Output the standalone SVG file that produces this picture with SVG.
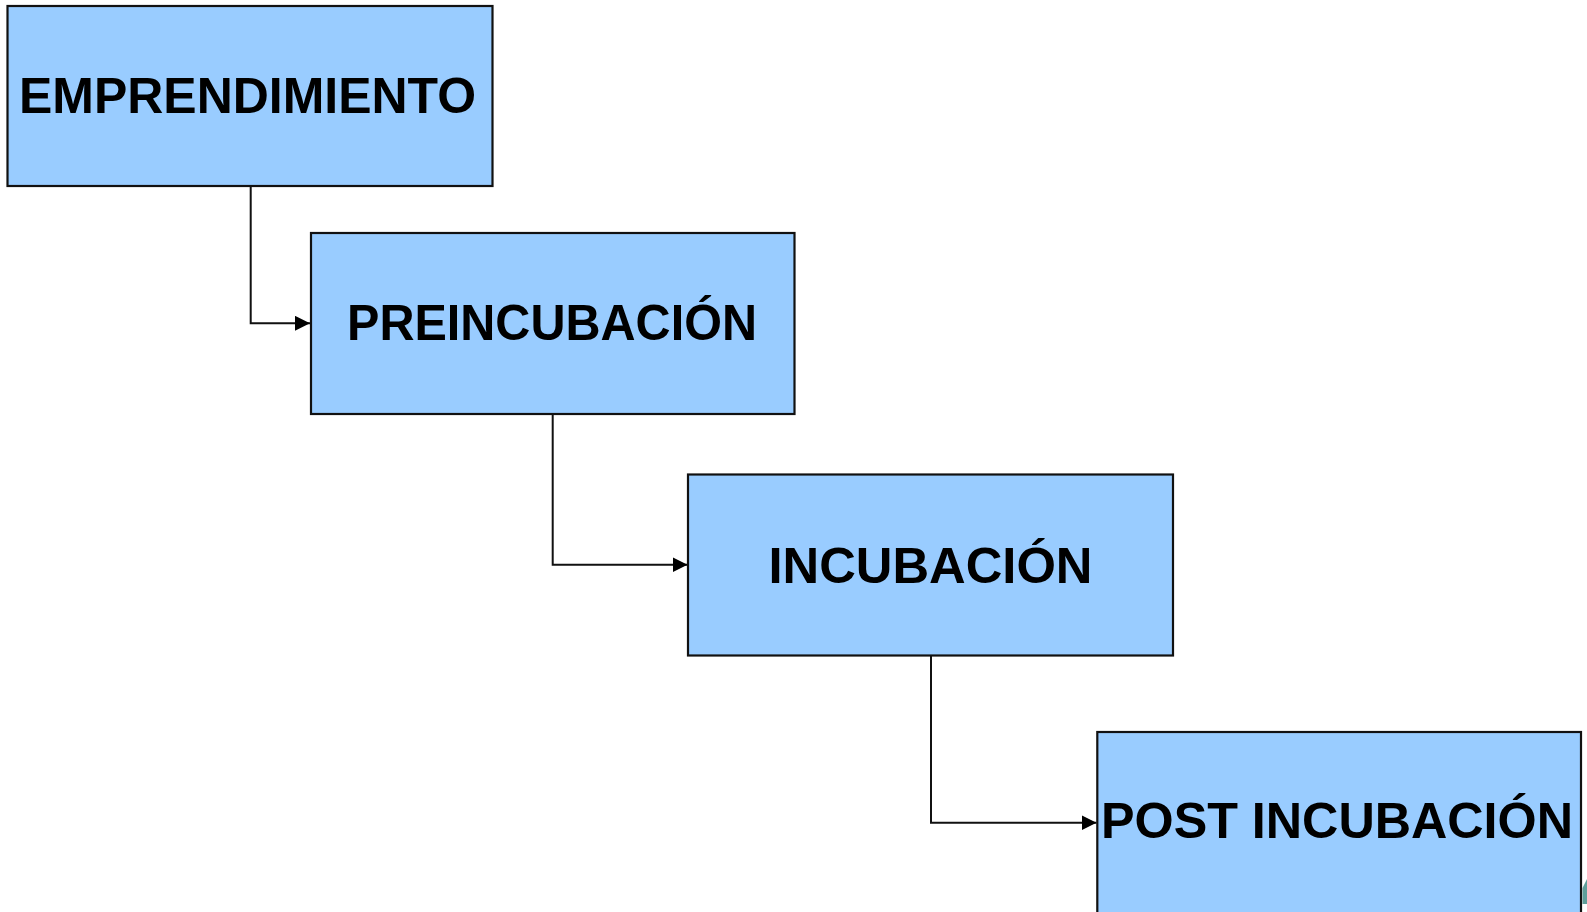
<svg xmlns="http://www.w3.org/2000/svg" width="1587" height="912" viewBox="0 0 1587 912">
  <style>
    .box { fill: #99CCFF; stroke: #111111; stroke-width: 2.2; }
    .lbl { font-family: "Liberation Sans", "DejaVu Sans", sans-serif; font-weight: bold; font-size: 50px; fill: #000000; text-anchor: middle; }
    .conn { fill: none; stroke: #111111; stroke-width: 2; }
  </style>
  <defs>
    <marker id="arrow" markerUnits="userSpaceOnUse" markerWidth="16" markerHeight="16" refX="15" refY="7.5" orient="auto">
      <path d="M0,0 L15,7.5 L0,15 Z" fill="#000000"/>
    </marker>
  </defs>
  <rect width="1587" height="912" fill="#FFFFFF"/>
  <polygon points="1587,879 1582.5,888 1582.5,904 1587,904" fill="#5F9E9A"/>
  <g id="connectors">
    <path class="conn" d="M250.7,186 V323.3 H310" marker-end="url(#arrow)"/>
    <path class="conn" d="M552.7,414 V564.7 H687.5" marker-end="url(#arrow)"/>
    <path class="conn" d="M931,655.7 V822.7 H1096.5" marker-end="url(#arrow)"/>
  </g>
  <g id="node-emprendimiento">
    <rect class="box" x="7.5" y="6" width="485" height="180"/>
    <text class="lbl" x="247.5" y="113" textLength="457" lengthAdjust="spacingAndGlyphs">EMPRENDIMIENTO</text>
  </g>
  <g id="node-preincubacion">
    <rect class="box" x="311" y="233" width="483.5" height="181"/>
    <text class="lbl" x="552" y="340" textLength="410" lengthAdjust="spacingAndGlyphs">PREINCUBACIÓN</text>
  </g>
  <g id="node-incubacion">
    <rect class="box" x="688" y="474.5" width="485" height="181"/>
    <text class="lbl" x="930.5" y="583.3" textLength="324" lengthAdjust="spacingAndGlyphs">INCUBACIÓN</text>
  </g>
  <g id="node-post-incubacion">
    <rect class="box" x="1097.3" y="732" width="483.7" height="200"/>
    <text class="lbl" x="1337" y="838.3" textLength="472" lengthAdjust="spacingAndGlyphs">POST INCUBACIÓN</text>
  </g>
</svg>
